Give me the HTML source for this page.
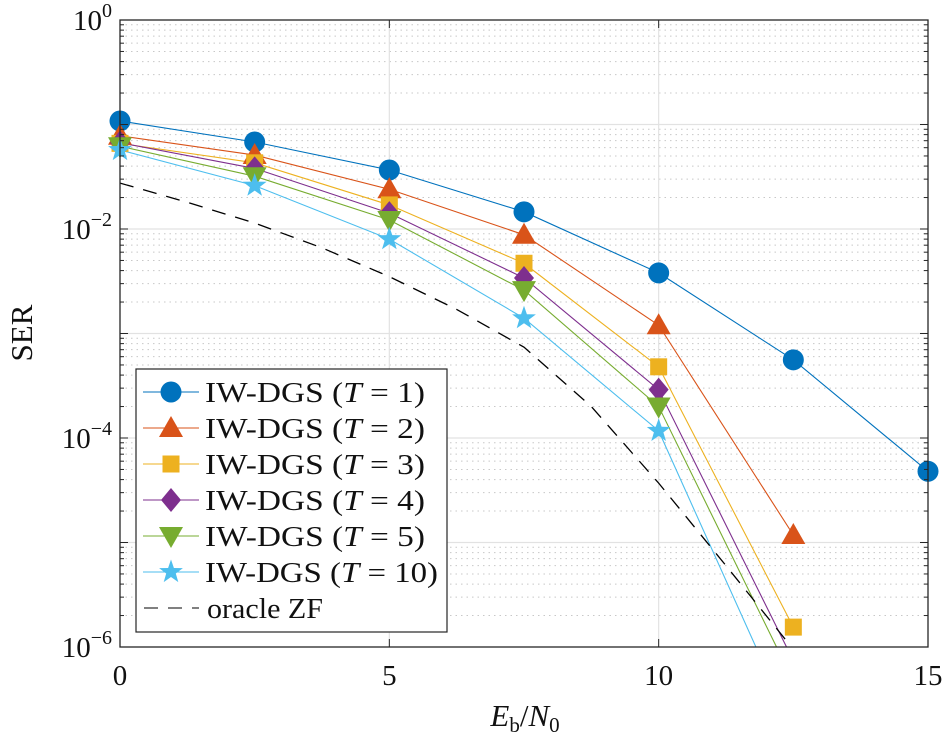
<!DOCTYPE html>
<html><head><meta charset="utf-8"><style>
html,body{margin:0;padding:0;background:#fff}
svg{display:block}
text{font-family:"Liberation Serif",serif;fill:#111}
</style></head><body>
<svg id="chart" width="945" height="740" viewBox="0 0 945 740" xmlns="http://www.w3.org/2000/svg">
<g id="grid"></g>
<g id="series"></g>
<g id="axes"></g>
<g id="legend"></g>
</svg>
<script>
const xValues = [0, 2.5, 5, 7.5, 10, 12.5, 15];
const serT1 = [0.108, 0.068, 0.0367, 0.0146, 0.0038, 5.6e-4, 4.8e-5];
const serT2 = [0.078, 0.051, 0.024, 0.0088, 0.0012, 1.18e-5];
const serT3 = [0.066, 0.043, 0.017, 0.0047, 4.8e-4, 1.55e-6];
const serT4 = [0.067, 0.038, 0.0142, 0.0034, 2.9e-4, 7.4e-7];
const serT5 = [0.062, 0.032, 0.0122, 0.0026, 2.0e-4, 4.7e-7];
const serT10 = [0.057, 0.026, 0.0080, 0.0014, 1.17e-4, 1.6e-7];
const zfX = [0, 1.25, 2.5, 3.75, 5, 6.25, 7.5, 8.75, 10, 11.25, 12.5];
const serZF = [0.0275, 0.018, 0.0114, 0.0066, 0.0035, 0.0017, 7.4e-4, 2.0e-4, 3.7e-5, 6.0e-6, 9.5e-7];
const xTicks = [0, 5, 10, 15];
const yTickExps = [0, -2, -4, -6];
const seriesNames = ["IW-DGS (T = 1)","IW-DGS (T = 2)","IW-DGS (T = 3)","IW-DGS (T = 4)","IW-DGS (T = 5)","IW-DGS (T = 10)","oracle ZF"];

const NS="http://www.w3.org/2000/svg";
const L=120,R=928,T=20,B=647;
const xs=v=>L+(v-0)/(15-0)*(R-L);
const ys=v=>T+(-Math.log10(v))/6*(B-T);
function mk(tag,attrs,parent){const e=document.createElementNS(NS,tag);for(const k in attrs)e.setAttribute(k,attrs[k]);parent.appendChild(e);return e;}
const grid=document.getElementById('grid'),axes=document.getElementById('axes'),ser=document.getElementById('series'),leg=document.getElementById('legend');
const defs=mk('defs',{},document.getElementById('chart'));
const cp=mk('clipPath',{id:'clip'},defs);mk('rect',{x:L,y:T,width:R-L,height:B-T},cp);
for(let e=0;e>-6;e--){for(let m=2;m<=9;m++){const y=ys(m*Math.pow(10,e-1));
const g=mk('line',{x1:L,x2:R,y1:y,y2:y,stroke:'#c8c8c8','stroke-width':1,'stroke-dasharray':'1.5,4'},grid);
}}
for(const e of [-1,-2,-3,-4,-5]){const y=ys(Math.pow(10,e));const g=mk('line',{x1:L,x2:R,y1:y,y2:y,stroke:'#e2e2e2','stroke-width':1.2},grid);
}
for(const v of [5,10]){const x=xs(v);const g=mk('line',{x1:x,x2:x,y1:T,y2:B,stroke:'#e2e2e2','stroke-width':1.2},grid);
}
const colors=['#0072BD','#D95319','#EDB120','#7E2F8E','#77AC30','#4DBEEE','#000'];
const markers=['circle','tri','square','diamond','vtri','star',null];
const data=[serT1,serT2,serT3,serT4,serT5,serT10,serZF];
function marker(type,cx,cy,c,parent){
 let e;
 if(type==='circle')e=mk('circle',{cx,cy,r:10.5,fill:c},parent);
 else if(type==='tri')e=mk('polygon',{points:`${cx},${cy-12} ${cx+12},${cy+9} ${cx-12},${cy+9}`,fill:c},parent);
 else if(type==='vtri')e=mk('polygon',{points:`${cx},${cy+12} ${cx+12},${cy-9} ${cx-12},${cy-9}`,fill:c},parent);
 else if(type==='square')e=mk('rect',{x:cx-8.5,y:cy-8.5,width:17,height:17,fill:c},parent);
 else if(type==='diamond')e=mk('polygon',{points:`${cx},${cy-12} ${cx+10},${cy} ${cx},${cy+12} ${cx-10},${cy}`,fill:c},parent);
 else if(type==='star'){let p=[];for(let i=0;i<10;i++){const r=i%2?5:12.5;const a=-Math.PI/2+i*Math.PI/5;p.push((cx+r*Math.cos(a)).toFixed(1)+','+(cy+r*Math.sin(a)).toFixed(1));}
  e=mk('polygon',{points:p.join(' '),fill:c},parent);}
 return e;
}
const sg=mk('g',{'clip-path':'url(#clip)'},ser);
data.forEach((arr,i)=>{
 const xv=i===6?zfX:xValues;
 const pts=arr.map((v,j)=>xs(xv[j])+','+ys(v)).join(' ');
 const pl=mk('polyline',{points:pts,fill:'none',stroke:colors[i],'stroke-width':i===6?1.3:1.1},sg);
 if(i===6)pl.setAttribute('stroke-dasharray','14,10');
 
 
});
data.forEach((arr,i)=>{
 if(!markers[i])return;
 arr.forEach((v,j)=>{const y=ys(v);if(y>B+2)return;
  const m=marker(markers[i],xs(xValues[j]),y,colors[i],ser);
  
  });
});
const bx=mk('rect',{x:L,y:T,width:R-L,height:B-T,fill:'none',stroke:'#262626','stroke-width':1.3},axes);

for(let e=0;e>-6;e--){for(let m=2;m<=9;m++){const y=ys(m*Math.pow(10,e-1));
 mk('line',{x1:L,x2:L+4,y1:y,y2:y,stroke:'#262626'},axes);mk('line',{x1:R,x2:R-4,y1:y,y2:y,stroke:'#262626'},axes);}}
for(let e=0;e>=-6;e--){const y=ys(Math.pow(10,e));mk('line',{x1:L,x2:L+8,y1:y,y2:y,stroke:'#262626'},axes);mk('line',{x1:R,x2:R-8,y1:y,y2:y,stroke:'#262626'},axes);}
xTicks.forEach(v=>{const x=xs(v);mk('line',{x1:x,x2:x,y1:B,y2:B-8,stroke:'#262626'},axes);mk('line',{x1:x,x2:x,y1:T,y2:T+8,stroke:'#262626'},axes);
 const t=mk('text',{x:x,y:B+38,'font-size':29,'text-anchor':'middle'},axes);t.textContent=v;
 });
yTickExps.forEach(e=>{const y=ys(Math.pow(10,e));
 const t=mk('text',{x:L-8,y:y+10,'font-size':29,'text-anchor':'end'},axes);
 
 const a=mk('tspan',{},t);a.textContent='10';const s=mk('tspan',{dy:-13,'font-size':20},t);s.textContent=String(e).replace('-','\u2212');});
const xt=mk('text',{x:525,y:726,'font-size':31,'text-anchor':'middle'},axes);

xt.innerHTML='<tspan font-style="italic">E</tspan><tspan font-size="21" dy="6">b</tspan><tspan dy="-6">/</tspan><tspan font-style="italic">N</tspan><tspan font-size="21" dy="6">0</tspan>';
const yt=mk('text',{x:32,y:333,'font-size':31,'text-anchor':'middle',transform:'rotate(-90 32 333)'},axes);
yt.textContent='SER';
const lb=mk('rect',{x:136,y:369,width:311,height:263,fill:'#fff',stroke:'#262626','stroke-width':1.2},leg);

const tlens=[220,220,220,220,220,233,116];
seriesNames.forEach((nm,i)=>{
 const y=392+i*36;
 const g=mk('g',{},leg);
 const ln=mk('line',{x1:143,x2:199,y1:y,y2:y,stroke:colors[i],'stroke-width':1.1},g);
 if(i===6){ln.setAttribute('stroke-dasharray','14,10');ln.setAttribute('x1',144);}
 if(markers[i])marker(markers[i],171,y,colors[i],g);
 const t=mk('text',{x:i===6?207:205,y:y+10,'font-size':28,textLength:tlens[i],lengthAdjust:'spacingAndGlyphs'},g);
 if(i<6){const n=[1,2,3,4,5,10][i];t.innerHTML=`IW-DGS (<tspan font-style="italic">T</tspan> = ${n})`;}
 else t.textContent=nm;
});
</script>
</body></html>
